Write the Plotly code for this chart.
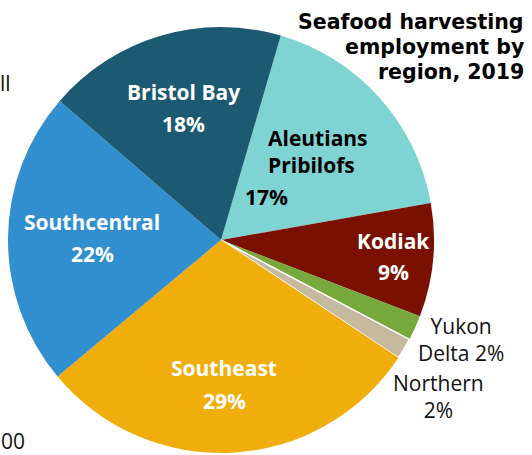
import plotly.graph_objects as go

# Data (shares of seafood harvesting employment)
regions = ["Aleutians Pribilofs", "Kodiak", "Yukon Delta", "Northern",
           "Southeast", "Southcentral", "Bristol Bay"]
shares = [17.7, 8.6, 1.9, 1.6, 29.6, 22.4, 18.2]
pct_labels = ["17%", "9%", "2%", "2%", "29%", "22%", "18%"]
colors = ["#7fd3d3", "#7a1100", "#77a83b", "#c5b9a0",
          "#efae0b", "#318fcf", "#1b5a70"]
title_lines = ["Seafood harvesting", "employment by", "region, 2019"]

W, H = 532, 455
cx, cy, r = 221, 240, 213

fig = go.Figure(go.Pie(
    labels=regions,
    values=shares,
    sort=False,
    direction="clockwise",
    rotation=16.3,
    marker=dict(colors=colors,
                line=dict(color="white", width=[0, 0, 0, 1.5, 0, 0, 0])),
    textinfo="none",
    hoverinfo="label+percent",
    showlegend=False,
    domain=dict(x=[(cx - r) / W, (cx + r) / W],
                y=[(H - cy - r) / H, (H - cy + r) / H]),
))

def ann(text, x, y, size=21, color="white", weight=700, xanchor="center",
        family="Open Sans", yanchor="middle", align="center"):
    return dict(text=text, x=x / W, y=1 - y / H, xref="paper", yref="paper",
                showarrow=False, xanchor=xanchor, yanchor=yanchor, align=align,
                font=dict(family=family, size=size, color=color, weight=weight))

annotations = [
    ann(regions[6], 183, 92),
    ann(pct_labels[6], 183, 124),
    ann("Aleutians<br>Pribilofs", 266, 152, color="black", xanchor="left",
        align="left"),
    ann(pct_labels[0], 243, 197, color="black", xanchor="left"),
    ann(regions[1], 393, 241),
    ann(pct_labels[1], 393, 272),
    ann(regions[5], 92, 222),
    ann(pct_labels[5], 92, 254),
    ann(regions[4], 224, 368),
    ann(pct_labels[4], 224, 401),
    ann("Yukon<br>Delta " + pct_labels[2], 461, 339, color="#111", weight=400),
    ann(regions[3] + "<br>" + pct_labels[3], 438, 396, color="#111",
        weight=400),
    ann("ll", -2, 83, color="#111", weight=400, xanchor="left"),
    ann("00", -1, 441, color="#111", weight=400, xanchor="left"),
]
for line, ty in zip(title_lines, [22, 47, 72]):
    annotations.append(dict(
        text=line, x=526 / W, y=1 - ty / H, xref="paper", yref="paper",
        showarrow=False, xanchor="right", yanchor="middle",
        font=dict(family="DejaVu Sans", size=20.5, color="black",
                  weight=700)))

fig.update_layout(
    width=W, height=H,
    margin=dict(l=0, r=0, t=0, b=0),
    paper_bgcolor="white",
    plot_bgcolor="white",
    annotations=annotations,
)

fig.write_html("out.html",
               config={"displayModeBar": False},
               post_script="document.body.style.margin='0';"
                           "document.body.style.overflow='hidden';")
